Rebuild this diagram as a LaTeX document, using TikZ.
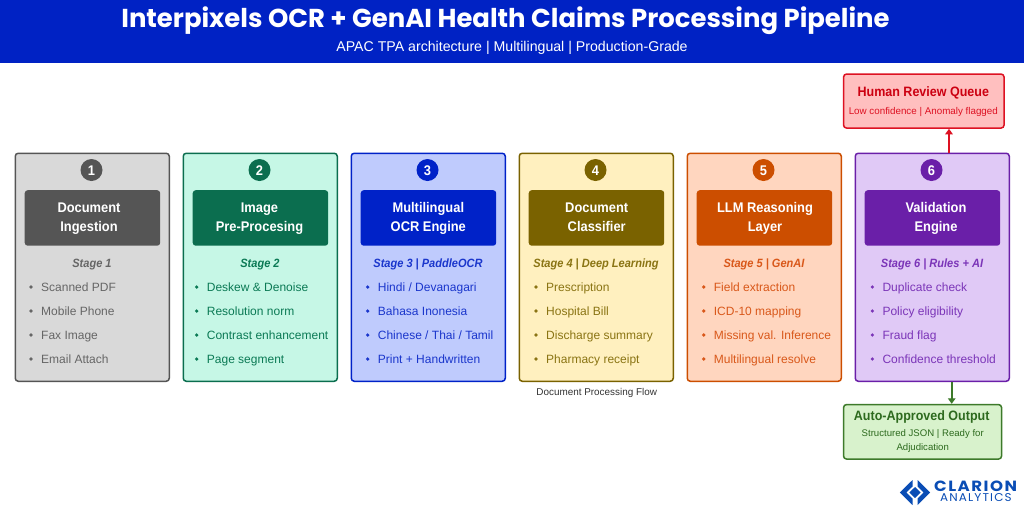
\documentclass[tikz,border=0pt]{standalone}
\usepackage{fontspec}
\usetikzlibrary{arrows.meta}
\setmainfont[BoldFeatures={FakeStretch=0.92},BoldItalicFeatures={FakeStretch=0.92}]{Liberation Sans}
\newfontfamily\titlefont{Poppins}
\newfontfamily\logoheavy[FakeStretch=1.12]{Poppins}
\newfontfamily\logolight[FakeStretch=1.06]{Poppins}
\definecolor{bannerblue}{HTML}{0022C4}
\definecolor{redfill}{HTML}{FFBFBF}\definecolor{redline}{HTML}{DD1122}\definecolor{redtext}{HTML}{CC0011}
\definecolor{greenfill}{HTML}{D8F2CC}\definecolor{greenline}{HTML}{3D7A2A}\definecolor{greentext}{HTML}{2D6A1E}
\definecolor{logoblue}{HTML}{0A4DB5}
\definecolor{afill}{HTML}{D9D9D9}\definecolor{adark}{HTML}{555555}\definecolor{atext}{HTML}{666666}
\definecolor{bfill}{HTML}{C6F7E6}\definecolor{bdark}{HTML}{0B6E4F}\definecolor{btext}{HTML}{0B7A55}
\definecolor{cfill}{HTML}{BFCBFD}\definecolor{cdark}{HTML}{0022C8}\definecolor{ctext}{HTML}{1A36CC}
\definecolor{dfill}{HTML}{FFF0BF}\definecolor{ddark}{HTML}{7A6200}\definecolor{dtext}{HTML}{8A7413}
\definecolor{efill}{HTML}{FFD6BF}\definecolor{edark}{HTML}{CC4E00}\definecolor{etext}{HTML}{D9581A}
\definecolor{ffill}{HTML}{E0C9F6}\definecolor{fdark}{HTML}{6A1FA8}\definecolor{ftext}{HTML}{7B35B8}
\tikzset{
 cardbox/.style={draw,line width=1.5pt,rounded corners=3pt,minimum width=154pt,minimum height=228pt,inner sep=0pt,anchor=north west},
 headbox/.style={rounded corners=3pt,minimum width=135.5pt,minimum height=55.5pt,inner sep=0pt,anchor=north west},
 badge/.style={circle,minimum size=22pt,inner sep=0pt},
 headtext/.style={text=white,font=\fontsize{14}{18.3}\selectfont\bfseries,align=center,inner sep=0pt,anchor=base},
 badgetext/.style={text=white,font=\fontsize{14}{14}\selectfont\bfseries,anchor=base,inner sep=0pt},
 stagetext/.style={font=\fontsize{12}{14}\selectfont\bfseries\itshape,anchor=base,inner sep=0pt},
 itemtext/.style={font=\fontsize{12}{14}\selectfont,anchor=base west,inner sep=0pt},
 dot/.style={circle,minimum size=3.6pt,inner sep=0pt},
 sidebox/.style={draw,line width=1.5pt,rounded corners=3pt,inner sep=0pt,anchor=north west},
 sidehead/.style={font=\fontsize{13.6}{15}\selectfont\bfseries,anchor=base,inner sep=0pt},
 sidesub/.style={font=\fontsize{9.6}{13.6}\selectfont,anchor=base,inner sep=0pt},
 connector/.style={line width=1.7pt,-{Triangle[length=5.5pt,width=7.5pt]}},
}
% #1 id, #2 left x, #3 number, #4 heading text, #5 head text x, #6 stage label
\newcommand{\stagecard}[6]{%
 \node[cardbox,fill=#1fill,draw=#1dark] (card#1) at (#2,152.5) {};
 \node[badge,fill=#1dark] (badge#1) at (#2+77,170) {};
 \node[badgetext] (num#1) at (#2+77,175) {#3};
 \node[headbox,fill=#1dark] (head#1) at (#2+10,190) {};
 \node[headtext] (headlabel#1) at (#5,231) {#4};
 \node[stagetext,text=#1text] (stage#1) at (#2+77.5,267.5) {#6};
}
% #1 id, #2 row, #3 text x, #4 text
\newcommand{\itemrow}[4]{%
 \node[dot,fill=#1text] (dot#1#2) at (#3-10,{287+24*(#2-1)}) {};
 \node[itemtext,text=#1text] (item#1#2) at (#3,{291.3+24*(#2-1)}) {#4};
}
\begin{document}
\begin{tikzpicture}[x=1pt,y=-1pt]
\useasboundingbox (0,0) rectangle (1024,512);
\fill[white] (0,0) rectangle (1024,512);
\fill[bannerblue] (0,0) rectangle (1024,62.5);
\node[anchor=base,text=white,inner sep=0pt,font=\titlefont\fontsize{25.9}{30}\selectfont\bfseries] (title) at (505.5,27) {Interpixels OCR + GenAI Health Claims Processing Pipeline};
\node[anchor=base,text=white,inner sep=0pt,font=\fontsize{14.15}{16}\selectfont] (subtitle) at (512,51) {APAC TPA architecture | Multilingual | Production-Grade};

\stagecard{a}{14.5}{1}{Document\\Ingestion}{89}{Stage 1}
\itemrow{a}{1}{41}{Scanned PDF}
\itemrow{a}{2}{41}{Mobile Phone}
\itemrow{a}{3}{41}{Fax Image}
\itemrow{a}{4}{41}{Email Attach}

\stagecard{b}{182.5}{2}{Image\\Pre-Procesing}{259.5}{Stage 2}
\itemrow{b}{1}{206.7}{Deskew \& Denoise}
\itemrow{b}{2}{206.7}{Resolution norm}
\itemrow{b}{3}{206.7}{Contrast enhancement}
\itemrow{b}{4}{206.7}{Page segment}

\stagecard{c}{350.5}{3}{Multilingual\\OCR Engine}{428.3}{Stage 3 | PaddleOCR}
\itemrow{c}{1}{377.7}{Hindi / Devanagari}
\itemrow{c}{2}{377.7}{Bahasa Inonesia}
\itemrow{c}{3}{377.7}{Chinese / Thai / Tamil}
\itemrow{c}{4}{377.7}{Print + Handwritten}

\stagecard{d}{518.5}{4}{Document\\Classifier}{596.7}{Stage 4 | Deep Learning}
\itemrow{d}{1}{546}{Prescription}
\itemrow{d}{2}{546}{Hospital Bill}
\itemrow{d}{3}{546}{Discharge summary}
\itemrow{d}{4}{546}{Pharmacy receipt}

\stagecard{e}{686.5}{5}{LLM Reasoning\\Layer}{765}{Stage 5 | GenAI}
\itemrow{e}{1}{713.7}{Field extraction}
\itemrow{e}{2}{713.7}{ICD-10 mapping}
\itemrow{e}{3}{713.7}{Missing val. Inference}
\itemrow{e}{4}{713.7}{Multilingual resolve}

\stagecard{f}{854.5}{6}{Validation\\Engine}{936}{Stage 6 | Rules + AI}
\itemrow{f}{1}{882.3}{Duplicate check}
\itemrow{f}{2}{882.3}{Policy eligibility}
\itemrow{f}{3}{882.3}{Fraud flag}
\itemrow{f}{4}{882.3}{Confidence threshold}

\node[anchor=base,inner sep=0pt,text=black!80,font=\fontsize{9.9}{11}\selectfont] (flowlabel) at (596.7,395.5) {Document Processing Flow};

\node[sidebox,fill=redfill,draw=redline,minimum width=160.5pt,minimum height=54pt] (human) at (842.8,73.3) {};
\node[sidehead,text=redtext] (humantitle) at (923.3,96.7) {Human Review Queue};
\node[sidesub,text=redline,font=\fontsize{9.8}{12}\selectfont] (humansub) at (923.3,114) {Low confidence | Anomaly flagged};

\node[sidebox,fill=greenfill,draw=greenline,minimum width=158pt,minimum height=54.5pt] (auto) at (842.8,403.8) {};
\node[sidehead,text=greentext] (autotitle) at (921.7,420) {Auto-Approved Output};
\node[sidesub,text=greentext,align=center,anchor=north] (autosub) at (922.7,429.5) {Structured JSON | Ready for\\Adjudication};

\coordinate (upx) at (949,0);
\coordinate (downx) at (951.7,0);
\draw[connector,draw=redline,fill=redline] (upx |- cardf.north) -- (upx |- human.south);
\draw[connector,draw=greenline,fill=greenline] (downx |- cardf.south) -- (downx |- auto.north);

% logo
\fill[logoblue] (912.5,480) -- (899.8,492.5) -- (912.5,505) -- (912.5,498.5) -- (906.3,492.5) -- (912.5,486.5) -- cycle;
\fill[logoblue] (917.5,480) -- (930.2,492.5) -- (917.5,505) -- (917.5,498.5) -- (923.7,492.5) -- (917.5,486.5) -- cycle;
\fill[logoblue] (915,487) -- (920.6,492.5) -- (915,498) -- (909.4,492.5) -- cycle;
\node[anchor=base west,inner sep=0pt,text=logoblue,font=\logoheavy\fontsize{14.8}{16}\selectfont\bfseries\addfontfeature{LetterSpace=10}] (clarion) at (934,491) {CLARION};
\node[anchor=base west,inner sep=0pt,text=logoblue,font=\logolight\fontsize{11.3}{12}\selectfont\addfontfeature{LetterSpace=10}] (analytics) at (940,501.5) {ANALYTICS};
\end{tikzpicture}
\end{document}
